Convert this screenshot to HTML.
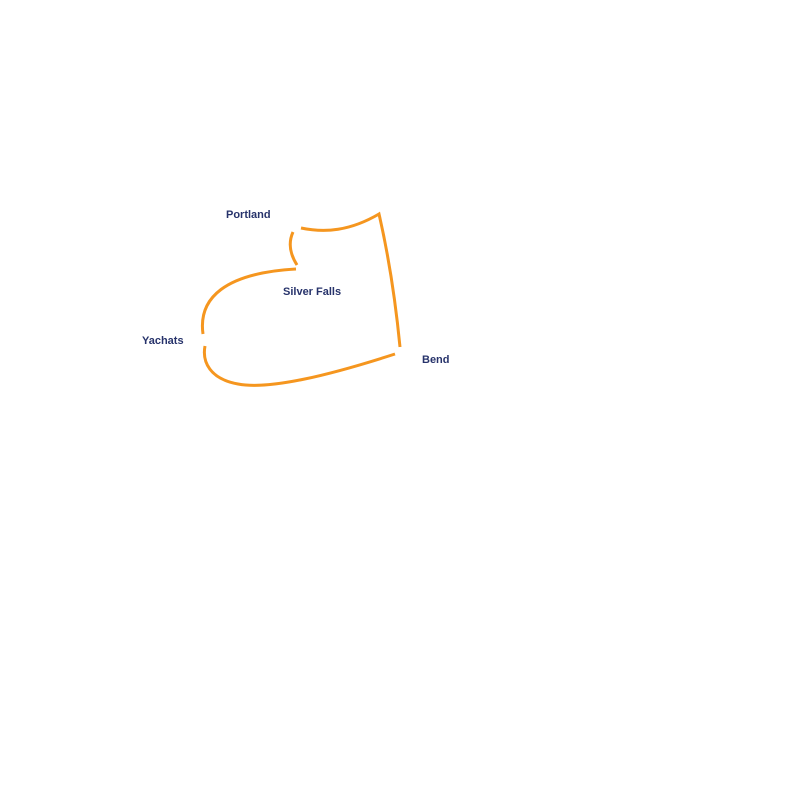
<!DOCTYPE html>
<html><head><style>
html,body{margin:0;padding:0;background:#fff;}
svg{display:block;}
text{font-family:"Liberation Sans",sans-serif;font-weight:bold;font-size:11px;fill:#27336b;}
</style></head><body>
<svg width="800" height="800" viewBox="0 0 800 800">
<g fill="none" stroke="#f5961f" stroke-width="3" stroke-linecap="butt">
<path d="M301,228 C325,233 350,231 379,214 Q393,275 400,347"/>
<path d="M395,354 C330,375 270,390 238,384 C210,379 202,362 205,346"/>
<path d="M203,334 C198,298 225,273 296,269"/>
<path d="M297,265 C290,254 288,243 293,232"/>
</g>
<text x="226" y="218">Portland</text>
<text x="283" y="295">Silver Falls</text>
<text x="142" y="344">Yachats</text>
<text x="422" y="363">Bend</text>
</svg>
</body></html>
